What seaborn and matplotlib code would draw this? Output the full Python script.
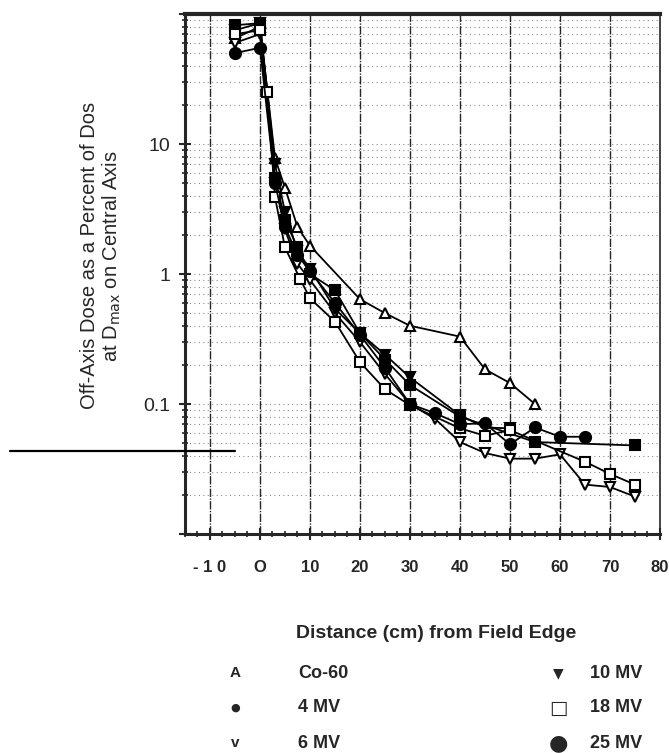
import numpy as np
import pandas as pd
import matplotlib
matplotlib.use("Agg")
import matplotlib.pyplot as plt
import matplotlib.ticker as mticker
import seaborn as sns

# ---- data (distance in cm, dose in %) ----
co60_x = [-5, 0, 3, 5, 7.5, 10, 20, 25, 30, 40, 45, 50, 55]
co60_y = [65, 80, 7.8, 4.6, 2.3, 1.65, 0.64, 0.50, 0.40, 0.33, 0.185, 0.145, 0.10]

mv4_x = [-5, 0, 3, 5, 7.5, 10, 15, 20, 25, 30, 40, 55, 75]
mv4_y = [82, 85, 5.5, 2.6, 1.6, 1.0, 0.75, 0.35, 0.22, 0.14, 0.080, 0.051, 0.048]

mv6_x = [-5, 0, 3, 5, 7.5, 10, 15, 20, 25, 30, 35, 40, 45, 50, 55, 60, 65, 70, 75]
mv6_y = [60, 70, 5.0, 2.2, 1.2, 0.9, 0.5, 0.30, 0.17, 0.10, 0.077, 0.051, 0.042,
         0.038, 0.038, 0.041, 0.024, 0.023, 0.0194]

mv10_x = [-5, 0, 3, 5, 7.5, 10, 15, 20, 25, 30, 40, 45, 50]
mv10_y = [75, 85, 7.0, 3.0, 1.5, 1.1, 0.54, 0.35, 0.24, 0.16, 0.082, 0.066, 0.065]

mv18_x = [-5, 0, 1.5, 3, 5, 8, 10, 15, 20, 25, 30, 40, 45, 50, 65, 70, 75]
mv18_y = [70, 75, 25, 3.9, 1.6, 0.92, 0.65, 0.43, 0.21, 0.13, 0.098, 0.065, 0.057,
          0.063, 0.036, 0.029, 0.024]

mv25_x = [-5, 0, 3, 5, 7.5, 10, 15, 20, 25, 30, 35, 40, 45, 50, 55, 60, 65]
mv25_y = [50, 55, 5.0, 2.3, 1.4, 1.05, 0.6, 0.34, 0.19, 0.10, 0.085, 0.07, 0.071,
          0.049, 0.066, 0.056, 0.056]

x_ticks = [-10, 0, 10, 20, 30, 40, 50, 60, 70, 80]
x_labels = ['- 1 0', 'O', '10', '20', '30', '40', '50', '60', '70', '80']
y_ticks = [0.01, 0.1, 1, 10, 100]
y_labels = ['', '0.1', '1', '10', '']

# reference line drawn across the left margin
ref_x = [-50, -5]
ref_y = [0.0433, 0.0433]

series = [
    ('Co-60', co60_x, co60_y, '^', 'white', 7),
    ('4 MV', mv4_x, mv4_y, 's', 'black', 7),
    ('6 MV', mv6_x, mv6_y, 'v', 'white', 7),
    ('10 MV', mv10_x, mv10_y, 'v', 'black', 7),
    ('18 MV', mv18_x, mv18_y, 's', 'white', 7),
    ('25 MV', mv25_x, mv25_y, 'o', 'black', 8),
]

sns.set_style("ticks")
plt.rcParams['font.family'] = ['Liberation Sans', 'DejaVu Sans']

fig = plt.figure(figsize=(6.69, 7.53), dpi=100)
ax = fig.add_axes([0.2765, 0.2908, 0.71, 0.6906])

for name, xs, ys, mk, fc, ms in series:
    d = pd.DataFrame({'dist': xs, 'dose': ys})
    sns.lineplot(data=d, x='dist', y='dose', ax=ax, color='black', lw=1.3,
                 marker=mk, markerfacecolor=fc, markeredgecolor='black',
                 markeredgewidth=1.5, ms=ms, estimator=None, sort=False)

ax.set_yscale('log')
ax.set_xlim(-15, 80)
ax.set_ylim(0.01, 100)

ax.set_xticks(x_ticks)
ax.set_xticklabels(x_labels, fontsize=12, fontweight='bold')
ax.xaxis.set_minor_locator(mticker.MultipleLocator(2.5))
ax.set_yticks(y_ticks)
ax.set_yticklabels(y_labels, fontsize=14)
ax.yaxis.set_minor_locator(mticker.LogLocator(base=10, subs=np.arange(2, 10)))
ax.yaxis.set_minor_formatter(mticker.NullFormatter())
ax.tick_params(axis='both', which='major', direction='inout', length=9, width=1.5, pad=14)
ax.tick_params(axis='y', which='major', pad=6)
ax.tick_params(axis='both', which='minor', direction='inout', length=4, width=1.2)

# scanned-paper grid
for gx in x_ticks[:-1]:
    ax.axvline(gx, color='black', lw=1.0, ls=(0, (6, 1, 1, 1)), alpha=0.85, zorder=0)
ax.grid(True, which='both', axis='y', color='black', ls=(0, (1, 3)), lw=0.8, alpha=0.45)

for side, w in [('left', 2.2), ('bottom', 2.2), ('top', 3.0), ('right', 1.2)]:
    ax.spines[side].set_visible(True)
    ax.spines[side].set_linewidth(w)

ax.plot(ref_x, ref_y, color='black', lw=1.6, clip_on=False, zorder=5)

ax.set_xlabel('')
ax.set_ylabel('Off-Axis Dose as a Percent of Dos\nat D$_{\\mathrm{max}}$ on Central Axis',
              fontsize=14.5, linespacing=1.1)
ax.yaxis.set_label_coords(-0.13, 0.535)

fig.text(436 / 669, 1 - 633 / 753, 'Distance (cm) from Field Edge', ha='center',
         va='center', fontsize=14, fontweight='bold')

legend_rows = [673, 708, 743]
left_items = [('A', 'Co-60'), ('\u25CF', '4 MV'), ('v', '6 MV')]
right_items = [('\u25BC', '10 MV'), ('\u25A1', '18 MV'), ('\u25CF', '25 MV')]
left_sizes = [11, 8, 11]
left_fams = [['Liberation Sans'], ['DejaVu Sans'], ['Liberation Sans']]
right_sizes = [10, 14, 16]
for (sym, lab), yy, fs, fam in zip(left_items, legend_rows, left_sizes, left_fams):
    fig.text(235 / 669, 1 - yy / 753, sym, ha='center', va='center',
             fontsize=fs, fontweight='bold', family=fam)
    fig.text(298 / 669, 1 - yy / 753, lab, ha='left', va='center',
             fontsize=13, fontweight='bold')
for (sym, lab), yy, fs in zip(right_items, legend_rows, right_sizes):
    fig.text(558 / 669, 1 - yy / 753, sym, ha='center', va='center',
             fontsize=fs, fontweight='bold', family=['DejaVu Sans'])
    fig.text(590 / 669, 1 - yy / 753, lab, ha='left', va='center',
             fontsize=13, fontweight='bold')

fig.savefig('out.png', dpi=100)
